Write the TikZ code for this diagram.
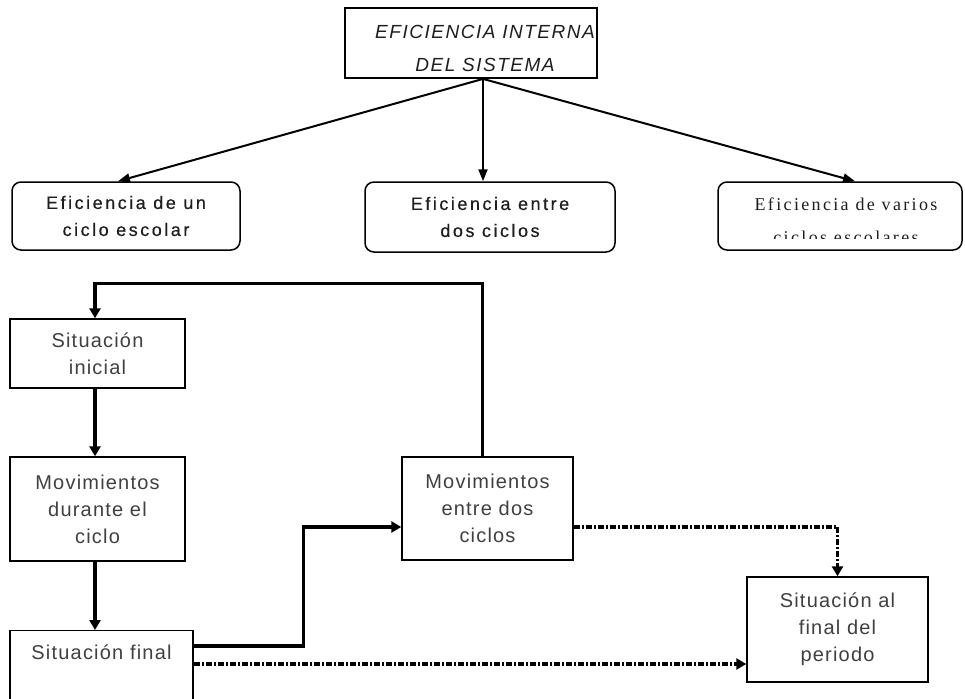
\documentclass[tikz,border=0pt]{standalone}
\usepackage{fontspec}
\usetikzlibrary{arrows.meta,calc}

\newfontfamily\titlefont[LetterSpace=8]{Liberation Sans}
\newfontfamily\upperfont[LetterSpace=14,FakeBold=0.4]{Liberation Sans}
\newfontfamily\lowerfont[LetterSpace=6]{Liberation Sans}
\newfontfamily\serfont[LetterSpace=13]{Liberation Serif}

\definecolor{inkdark}{HTML}{1E1E1E}
\definecolor{inklow}{HTML}{404040}

\tikzset{
  titlebox/.style={draw, line width=1.8pt, minimum width=252pt, minimum height=70pt, inner sep=0pt},
  titletext/.style={align=center, text=inkdark, font=\titlefont\itshape\fontsize{19}{33}\selectfont},
  roundbox/.style={draw, line width=1.5pt, rounded corners=9pt, inner sep=0pt, align=center,
    text=inkdark, font=\upperfont\fontsize{18}{27}\selectfont},
  serifline/.style={text=inkdark, font=\serfont\fontsize{18}{22}\selectfont, inner sep=0pt, anchor=base},
  flowbox/.style={draw, line width=1.4pt, inner sep=0pt, align=center, text=inklow,
    font=\lowerfont\fontsize{20}{27}\selectfont},
  toparrow/.style={line width=2pt, -{Triangle[length=12pt,width=9pt]}},
  flow/.style={line width=3.3pt, -{Triangle[length=10pt,width=11pt]}},
  dashflow/.style={line width=3.2pt, dash pattern=on 6pt off 2pt on 2pt off 2pt,
    -{Triangle[length=10pt,width=11pt]}}
}

\begin{document}
\begin{tikzpicture}[x=1pt,y=-1pt]
  \useasboundingbox (0,0) rectangle (965,698);
  \fill[white] (0,0) rectangle (965,698);
  \clip (0,0) rectangle (965,698);

  % heading
  \node[titlebox] (title) at (471,43) {};
  \node[titletext] (titletxt) at (485,48) {EFICIENCIA INTERNA\\DEL SISTEMA};

  % three kinds of efficiency
  \node[roundbox, minimum width=228pt, minimum height=68pt] (c1) at (126,216)
    {Eficiencia de un\\ciclo escolar};
  \node[roundbox, minimum width=250pt, minimum height=70pt] (c2) at (490,217)
    {Eficiencia entre\\dos ciclos};
  \node[roundbox, minimum width=244pt, minimum height=68pt] (c3) at (840,216) {};
  \node[serifline] (c3a) at (846,210) {Eficiencia de varios};
  \begin{scope}
    \clip (700,150) rectangle (965,238.5);
    \node[serifline] (c3b) at (846,243) {ciclos escolares};
  \end{scope}

  \coordinate (tp) at ($(title.south)+(12,0)$);
  \draw[toparrow] (tp) -- ($(c1.north)+(-8,0)$);
  \draw[toparrow] (tp) -- (tp |- c2.north);
  \draw[toparrow] (tp) -- ($(c3.north)+(15,0)$);

  % flow of the cycle
  \node[flowbox, minimum width=175pt, minimum height=69pt] (si) at (97.5,353.5)
    {Situación\\inicial};
  \node[flowbox, minimum width=175pt, minimum height=104pt] (md) at (97.5,509)
    {Movimientos\\durante el\\ciclo};
  \node[flowbox, minimum width=183pt, text height=29pt, text depth=61pt, anchor=north]
    (sf) at (101.5,630) {Situación final};
  \node[flowbox, minimum width=171pt, minimum height=103pt] (me) at (487.5,508.5)
    {Movimientos\\entre dos\\ciclos};
  \node[flowbox, minimum width=181pt, minimum height=105pt] (sp) at (837.5,629.5)
    {Situación al\\final del\\periodo};

  \draw[flow] ($(me.north)+(-5,0)$) -- ++(0,-173) -| ($(si.north)+(-2.5,0)$);
  \draw[flow] ($(si.south)+(-2.5,0)$) -- ($(md.north)+(-2.5,0)$);
  \draw[flow] ($(md.south)+(-2.5,0)$) -- ($(md.south |- sf.north)+(-2.5,0)$);
  \draw[flow] ($(sf.north east)+(0,16)$) -- ++(110,0) |- ($(me.west)+(0,18.5)$);
  \draw[dashflow] ($(me.east)+(0,18.5)$) -| (sp.north);
  \draw[dashflow] ($(sf.north east)+(0,34)$) -- ($(sp.west |- sf.north east)+(0,34)$);
\end{tikzpicture}
\end{document}
